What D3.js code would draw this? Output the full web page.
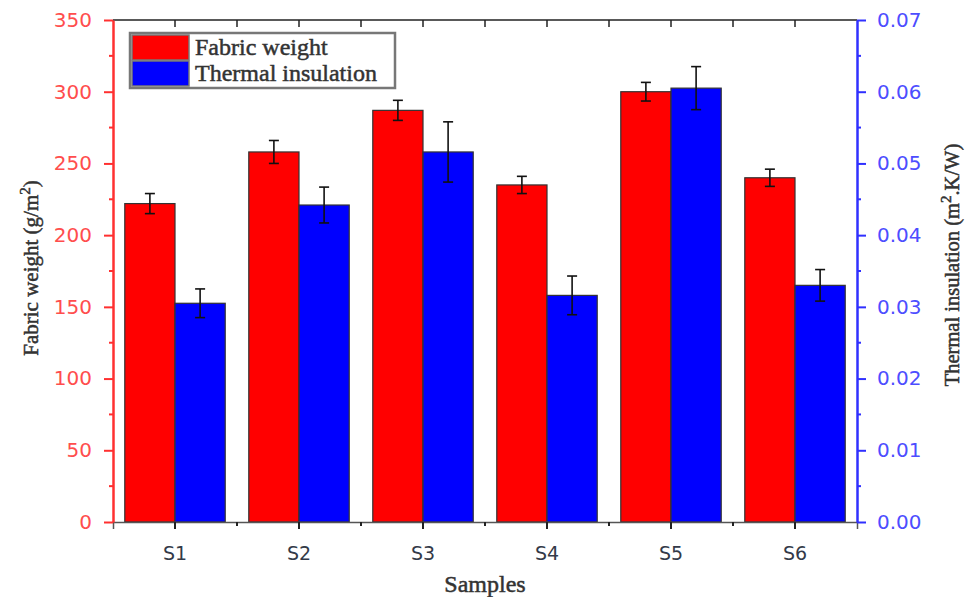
<!DOCTYPE html>
<meta charset="utf-8">
<script src="https://d3js.org/d3.v7.min.js"></script>
<style>
  body { margin: 0; background: #fff; }
</style>
<body>
<div id="chart"></div>
<script>
  // data
  var samples = ["S1", "S2", "S3", "S4", "S5", "S6"];
  var fabricWeight = [222, 258, 287, 235, 300, 240];
  var fabricErr = [7, 8, 7, 6, 6.5, 6];
  var insulation = [0.0305, 0.0442, 0.0516, 0.0316, 0.0605, 0.033];
  var insulationErr = [0.002, 0.0025, 0.0042, 0.0027, 0.003, 0.0022];
  var leftTicks = [0, 50, 100, 150, 200, 250, 300, 350];
  var rightTicks = [0, 0.01, 0.02, 0.03, 0.04, 0.05, 0.06, 0.07];

  var width = 966, height = 597;
  var margin = {top: 20, right: 109, bottom: 75, left: 113};

  var svg = d3.select("#chart").append("svg")
    .attr("width", width)
    .attr("height", height);

  var x = d3.scaleBand().domain(samples)
    .range([margin.left, width - margin.right])
    .paddingInner(0.19).paddingOuter(0.095);
  var yL = d3.scaleLinear().domain([0, 350]).range([height - margin.bottom, margin.top]);
  var yR = d3.scaleLinear().domain([0, 0.07]).range([height - margin.bottom, margin.top]);

  var bw = x.bandwidth() / 2;
  var red = "#ff0000", blue = "#0000ff";

  // bars
  var g = svg.append("g");
  function bars(vals, errs, scale, color, off) {
    g.selectAll(null).data(vals).enter().append("rect")
      .attr("x", function(d, i) { return x(samples[i]) + off; })
      .attr("y", function(d) { return scale(d); })
      .attr("width", bw)
      .attr("height", function(d) { return scale(0) - scale(d); })
      .attr("fill", color)
      .attr("stroke", "#333")
      .attr("stroke-width", 1.2);
    var eb = g.selectAll(null).data(vals).enter().append("g")
      .attr("stroke", "#111").attr("stroke-width", 1.6);
    eb.append("line")
      .attr("x1", function(d, i) { return x(samples[i]) + off + bw / 2; })
      .attr("x2", function(d, i) { return x(samples[i]) + off + bw / 2; })
      .attr("y1", function(d, i) { return scale(d + errs[i]); })
      .attr("y2", function(d, i) { return scale(d - errs[i]); });
    [1, -1].forEach(function(s) {
      eb.append("line")
        .attr("x1", function(d, i) { return x(samples[i]) + off + bw / 2 - 5; })
        .attr("x2", function(d, i) { return x(samples[i]) + off + bw / 2 + 5; })
        .attr("y1", function(d, i) { return scale(d + s * errs[i]); })
        .attr("y2", function(d, i) { return scale(d + s * errs[i]); });
    });
  }
  bars(fabricWeight, fabricErr, yL, red, 0);
  bars(insulation, insulationErr, yR, blue, bw);

  // category positions and minor boundaries
  var centers = samples.map(function(s) { return x(s) + x.bandwidth() / 2; });
  var step = x.step();
  var bounds = d3.range(samples.length + 1).map(function(i) { return margin.left + i * step; });

  var yBase = height - margin.bottom;

  // top frame
  svg.append("line").attr("x1", margin.left).attr("x2", width - margin.right)
    .attr("y1", margin.top).attr("y2", margin.top).attr("stroke", "#222").attr("stroke-width", 1.5);
  svg.selectAll(null).data(centers.concat(bounds.slice(1, -1))).enter().append("line")
    .attr("x1", function(d) { return d; }).attr("x2", function(d) { return d; })
    .attr("y1", margin.top).attr("y2", margin.top + 7)
    .attr("stroke", "#222").attr("stroke-width", 1.5);

  // bottom axis
  var xAxis = svg.append("g").attr("transform", "translate(0," + yBase + ")")
    .call(d3.axisBottom(x).tickSize(7).tickPadding(18));
  xAxis.select(".domain").attr("stroke", "#555").attr("stroke-width", 1.5);
  xAxis.selectAll(".tick line").attr("stroke", "#222").attr("stroke-width", 2);
  xAxis.selectAll(".tick text")
    .attr("font-family", "DejaVu Sans, sans-serif").attr("font-size", 19).attr("fill", "#333a48");
  xAxis.selectAll(null).data(bounds.slice(1, -1)).enter().append("line")
    .attr("x1", function(d) { return d; }).attr("x2", function(d) { return d; })
    .attr("y1", 0).attr("y2", 4).attr("stroke", "#222").attr("stroke-width", 2);

  // left axis
  var leftAxis = svg.append("g").attr("transform", "translate(" + margin.left + ",0)")
    .call(d3.axisLeft(yL).tickValues(leftTicks).tickSize(9).tickPadding(12).tickSizeOuter(0));
  leftAxis.select(".domain").attr("stroke", "#ff3030").attr("stroke-width", 2.5);
  leftAxis.selectAll(".tick line").attr("stroke", "#ff3030").attr("stroke-width", 2);
  leftAxis.selectAll(".tick text")
    .attr("font-family", "DejaVu Sans, sans-serif").attr("font-size", 20).attr("fill", "#ff4d4d");
  leftAxis.selectAll(null).data(d3.range(25, 350, 50)).enter().append("line")
    .attr("x1", -4).attr("x2", 0)
    .attr("y1", function(d) { return yL(d); }).attr("y2", function(d) { return yL(d); })
    .attr("stroke", "#ff3030").attr("stroke-width", 2);

  // right axis
  var rightAxis = svg.append("g").attr("transform", "translate(" + (width - margin.right) + ",0)")
    .call(d3.axisRight(yR).tickValues(rightTicks).tickSize(9).tickPadding(11).tickSizeOuter(0)
      .tickFormat(d3.format(".2f")));
  rightAxis.select(".domain").attr("stroke", "#3030ff").attr("stroke-width", 2.5);
  rightAxis.selectAll(".tick line").attr("stroke", "#3030ff").attr("stroke-width", 2);
  rightAxis.selectAll(".tick text")
    .attr("font-family", "DejaVu Sans, sans-serif").attr("font-size", 20).attr("fill", "#4d4dff");
  rightAxis.selectAll(null).data(d3.range(0.005, 0.07, 0.01)).enter().append("line")
    .attr("x1", 0).attr("x2", 4)
    .attr("y1", function(d) { return yR(d); }).attr("y2", function(d) { return yR(d); })
    .attr("stroke", "#3030ff").attr("stroke-width", 2);

  // axis titles (slight stroke gives the semi-bold look of the original)
  var serif = "Liberation Serif, Times New Roman, serif";
  var ink = "#333";
  var lt = svg.append("text")
    .attr("transform", "translate(38,268) rotate(-90)")
    .attr("text-anchor", "middle").attr("font-family", serif)
    .attr("font-size", 21).attr("fill", ink).attr("stroke", ink).attr("stroke-width", 0.5);
  lt.append("tspan").text("Fabric weight (g/m");
  lt.append("tspan").attr("baseline-shift", "super").attr("font-size", 15).text("2");
  lt.append("tspan").text(")");

  var rt = svg.append("text")
    .attr("transform", "translate(959,265) rotate(-90)")
    .attr("text-anchor", "middle").attr("font-family", serif)
    .attr("font-size", 20.5).attr("fill", ink).attr("stroke", ink).attr("stroke-width", 0.5);
  rt.append("tspan").text("Thermal insulation (m");
  rt.append("tspan").attr("baseline-shift", "super").attr("font-size", 15).text("2");
  rt.append("tspan").text(".K/W)");

  svg.append("text").attr("x", 485).attr("y", 592)
    .attr("text-anchor", "middle").attr("font-family", serif)
    .attr("font-size", 24).attr("fill", ink).attr("stroke", ink).attr("stroke-width", 0.5)
    .text("Samples");

  // legend
  var legend = svg.append("g").attr("transform", "translate(130,33)");
  legend.append("rect").attr("width", 265).attr("height", 55)
    .attr("fill", "#fff").attr("stroke", "#777").attr("stroke-width", 2.5);
  var names = ["Fabric weight", "Thermal insulation"];
  var colors = [red, blue];
  var item = legend.selectAll(".item").data(names).enter().append("g")
    .attr("transform", function(d, i) { return "translate(2," + (2 + i * 26) + ")"; });
  item.append("rect").attr("width", 57).attr("height", 25)
    .attr("fill", function(d, i) { return colors[i]; })
    .attr("stroke", "#777").attr("stroke-width", 1.5);
  item.append("text").attr("x", 63).attr("y", 20)
    .attr("font-family", serif).attr("font-size", 24)
    .attr("fill", ink).attr("stroke", ink).attr("stroke-width", 0.5)
    .text(function(d) { return d; });
</script>
</body>
